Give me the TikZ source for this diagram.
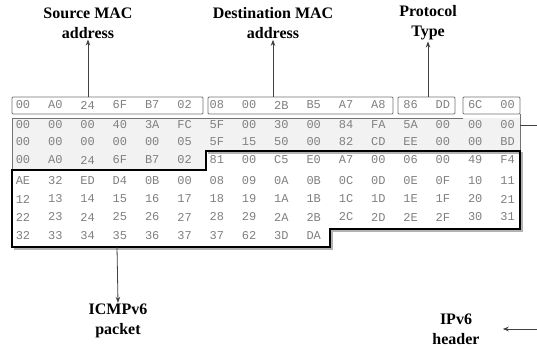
\documentclass[tikz,border=0pt]{standalone}
\usepackage{fontspec}
\setmainfont{Liberation Serif}
\setmonofont{Liberation Mono}
\usetikzlibrary{arrows.meta}
\definecolor{hexgray}{gray}{0.5}
\definecolor{boxgray}{gray}{0.45}
\definecolor{linegray}{gray}{0.25}
\definecolor{shadegray}{gray}{0.95}
\begin{document}
\begin{tikzpicture}[x=1pt,y=-1pt,
  lab/.style={font=\bfseries\fontsize{16}{20}\selectfont, align=center, inner sep=1pt},
  hexbyte/.style={font=\ttfamily\fontsize{12}{13}\selectfont, text=hexgray, inner sep=0pt, anchor=center},
  fieldbox/.style={draw=boxgray, line width=0.8pt, rounded corners=1pt, inner sep=0pt, minimum height=17pt},
  arrowline/.style={draw=linegray, line width=0.8pt, -{Stealth[length=6pt,width=4.5pt]}},
  hdrline/.style={draw=boxgray, line width=0.8pt},
  icmpline/.style={draw=black, line width=1.4pt},
  icmpshadow/.style={draw=gray!60, line width=1.2pt},
]
\useasboundingbox (0,0) rectangle (537,350);
\fill[white] (0,0) rectangle (537,350);

% IPv6 header region (shaded)
\fill[shadegray] (12,118) -- (520,118) -- (520,151) -- (206,151) -- (206,170) -- (12,170) -- cycle;

% hex bytes
\foreach \row/\yy/\bytes in {
  1/105/{00,A0,24,6F,B7,02,08,00,2B,B5,A7,A8,86,DD,6C,00},
  2/125/{00,00,00,40,3A,FC,5F,00,30,00,84,FA,5A,00,00,00},
  3/142/{00,00,00,00,00,05,5F,15,50,00,82,CD,EE,00,00,BD},
  4/160/{00,A0,24,6F,B7,02,81,00,C5,E0,A7,00,06,00,49,F4},
  5/181/{AE,32,ED,D4,0B,00,08,09,0A,0B,0C,0D,0E,0F,10,11},
  6/199/{12,13,14,15,16,17,18,19,1A,1B,1C,1D,1E,1F,20,21},
  7/217/{22,23,24,25,26,27,28,29,2A,2B,2C,2D,2E,2F,30,31},
  8/236/{32,33,34,35,36,37,37,62,3D,DA}}{
  \foreach \b [count=\c] in \bytes {
    \node[hexbyte] (b\row-\c) at ({23+32.3*(\c-1)},\yy) {\b};
  }
}

% field boxes of the first row
\node[fieldbox, minimum width=191pt] (srcbox) at (107.5,105.5) {};
\node[fieldbox, minimum width=185pt] (dstbox) at (300.5,105.5) {};
\node[fieldbox, minimum width=57pt] (protobox) at (426.5,105.5) {};
\node[fieldbox, minimum width=57pt] (ipstart) at (491.5,105.5) {};

% IPv6 header outline
\draw[hdrline] (463,118) -- (12,118) -- (12,170);
\draw[hdrline] (520,114) -- (520,151);
\coordinate (hdrR) at (520,125);

% ICMPv6 packet outline
\draw[icmpshadow] (208,153) -- (522,153) -- (522,231) -- (332,231) -- (332,249) -- (14,249);
\draw[icmpline] (206,151) -- (520,151) -- (520,229) -- (330,229) -- (330,247) -- (12,247) -- (12,170) -- (206,170) -- cycle;
\coordinate (icmpB) at (117,247);

% labels
\node[lab] (srclab) at (88,23) {Source MAC\\address};
\node[lab] (dstlab) at (273,23) {Destination MAC\\address};
\node[lab] (protolab) at (428,23) {Protocol\\Type};
\node[lab] (icmplab) at (118,321) {ICMPv6\\packet};
\node[lab] (hdrlab) at (456,329) {IPv6\\header};

% connectors
\draw[arrowline] (srcbox.north -| srclab.south) -- (srclab.south);
\draw[arrowline] (dstbox.north -| dstlab.south) -- (dstlab.south);
\draw[arrowline] (protobox.north -| protolab.south) -- (protolab.south);
\draw[arrowline] (icmpB) -- (icmplab.north);
\draw[arrowline, shorten >=22pt] (hdrR) -- (548,125) |- (hdrlab.east);
\end{tikzpicture}
\end{document}
